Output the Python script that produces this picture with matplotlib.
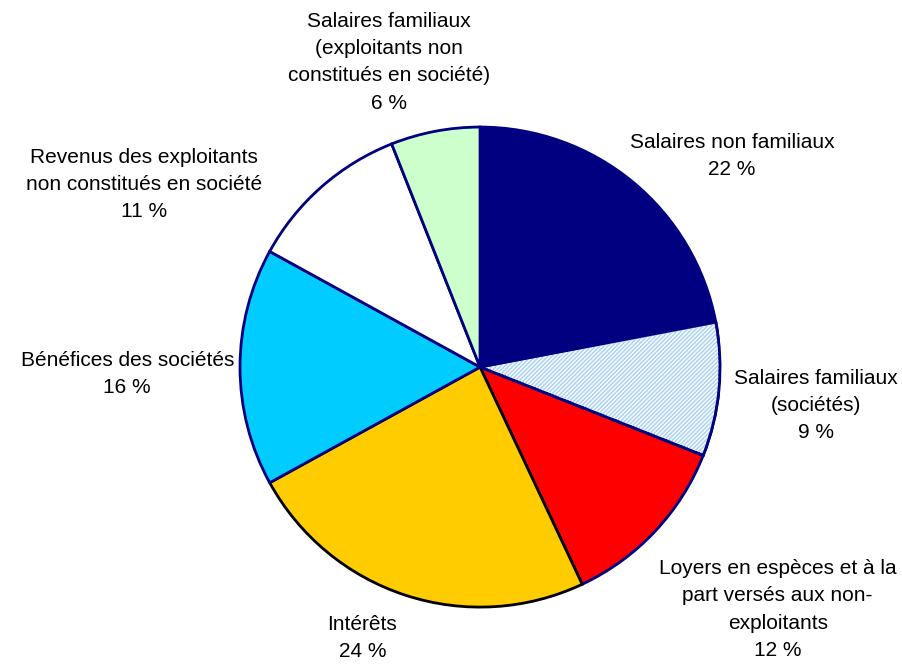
import matplotlib.pyplot as plt
from matplotlib.patches import Wedge

plt.rcParams['font.family'] = ['Liberation Sans', 'DejaVu Sans']
plt.rcParams['hatch.linewidth'] = 1.2

labels = ['Salaires non familiaux\n22 %',
          'Salaires familiaux\n(sociétés)\n9 %',
          'Loyers en espèces et à la\npart versés aux non-\nexploitants\n12 %',
          'Intérêts\n24 %',
          'Bénéfices des sociétés\n16 %',
          'Revenus des exploitants\nnon constitués en société\n11 %',
          'Salaires familiaux\n(exploitants non\nconstitués en société)\n6 %']
shares = [22, 9, 12, 24, 16, 11, 6]
colors = ['#000080', '#ffffff', '#ff0000', '#ffcc00', '#00ccff', '#ffffff', '#ccffcc']
label_pos = [(1.05, 0.88), (1.40, -0.16), (1.24, -1.01), (-0.49, -1.13),
             (-1.47, -0.03), (-1.40, 0.76), (-0.38, 1.27)]

fig = plt.figure(figsize=(9.03, 6.65), dpi=100)
ax = fig.add_axes([0.5316 - 0.2658, 0.448 - 0.361, 0.5316, 0.722])

wedges, _ = ax.pie(shares, colors=colors, startangle=90, counterclock=False,
                   wedgeprops=dict(edgecolor='#000080', linewidth=2))
wedges[3].set_edgecolor('black')

# hatch on the "sociétés" family wages slice
w = wedges[1]
ax.add_patch(Wedge(w.center, w.r, w.theta1, w.theta2, facecolor='none',
                   edgecolor='#b0d4f5', hatch='////////', linewidth=0, zorder=w.get_zorder() + 0.1))
ax.add_patch(Wedge(w.center, w.r, w.theta1, w.theta2, facecolor='none',
                   edgecolor='#000080', linewidth=2, zorder=w.get_zorder() + 0.2))

for lab, (x, y) in zip(labels, label_pos):
    ax.text(x, y, lab, ha='center', va='center', fontsize=15, linespacing=1.55)

ax.set_xlim(-1, 1)
ax.set_ylim(-1, 1)
ax.set_aspect('equal')

fig.savefig('out.png', dpi=100)
